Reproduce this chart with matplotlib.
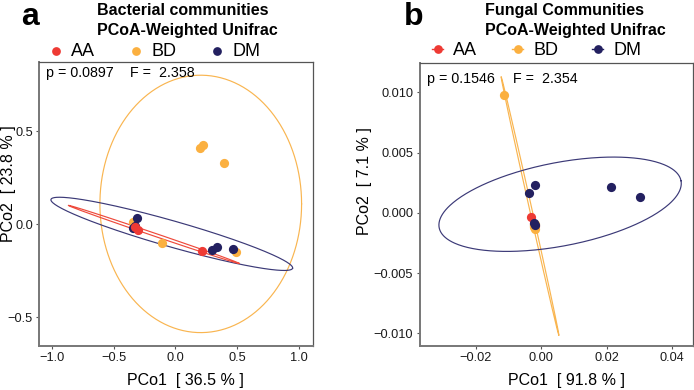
import numpy as np
import matplotlib
matplotlib.use("Agg")
import matplotlib.pyplot as plt
from matplotlib.lines import Line2D

plt.rcParams['font.family'] = ['Liberation Sans', 'DejaVu Sans']

# ---------------- data ----------------
groups = ["AA", "BD", "DM"]
colors = {"AA": "#EE3A34", "BD": "#FBB040", "DM": "#232060"}
ell_colors = {"AA": "#EE4A3C", "BD": "#F9B550", "DM": "#3B3977"}

# Panel a: Bacterial communities
a_AA_x = [-0.330, -0.302, 0.212]
a_AA_y = [-0.015, -0.031, -0.142]
a_BD_x = [0.199, 0.225, 0.396, -0.112, 0.488, -0.342]
a_BD_y = [0.412, 0.426, 0.328, -0.102, -0.147, 0.014]
a_DM_x = [-0.315, -0.342, -0.330, 0.294, 0.339, 0.464]
a_DM_y = [0.032, -0.022, -0.010, -0.138, -0.120, -0.134]
# ellipses: centre, conjugate semi-diameters (data units)
a_ell_center = {"AA": (-0.176, -0.054), "BD": (0.205, 0.110), "DM": (-0.030, -0.051)}
a_ell_p = {"AA": (0.693, -0.156), "BD": (0.818, 0.0), "DM": (0.980, -0.185)}
a_ell_q = {"AA": (-0.0039, -0.0076), "BD": (0.0, 0.692), "DM": (-0.0289, -0.0672)}
a_stats = ("p = 0.0897", "F =  2.358")

# Panel b: Fungal communities
b_AA_x = [-0.0030, -0.0022, -0.0020]
b_AA_y = [-0.00037, -0.0009, -0.0011]
b_BD_x = [-0.0112, -0.0021, -0.0022, -0.0020, -0.0023, -0.0019]
b_BD_y = [0.00978, -0.0012, -0.0010, -0.0013, -0.0011, -0.0009]
b_DM_x = [-0.00376, -0.00175, 0.02147, 0.03032, -0.0021, -0.0020]
b_DM_y = [0.00162, 0.00231, 0.00217, 0.00128, -0.00082, -0.0010]
b_ell_center = {"BD": (-0.0034, 0.00058), "DM": (0.0058, 0.000714)}
b_ell_p = {"BD": (0.00881, -0.01072), "DM": (0.03695, 0.00195)}
b_ell_q = {"BD": (0.000357, 0.0000216), "DM": (0.00243, -0.003394)}
b_stats = ("p = 0.1546", "F =  2.354")

a_xticks = [-1.0, -0.5, 0.0, 0.5, 1.0]
a_yticks = [-0.5, 0.0, 0.5]
b_xticks = [-0.02, 0.00, 0.02, 0.04]
b_yticks = [-0.010, -0.005, 0.000, 0.005, 0.010]

W, H = 694, 390
fig = plt.figure(figsize=(W / 100, H / 100), dpi=100)

def fx(px):
    return px / W

def fy(py):
    return 1 - py / H

def make_ax(l, t, r, b):
    return fig.add_axes([fx(l), fy(b), fx(r) - fx(l), fy(t) - fy(b)])

def style_ax(ax):
    for s in ax.spines.values():
        s.set_color('#555555')
        s.set_linewidth(0.9)
    ax.spines['left'].set_color('#777777')
    ax.spines['bottom'].set_color('#777777')
    ax.spines['left'].set_linewidth(1.4)
    ax.spines['bottom'].set_linewidth(1.4)
    ax.tick_params(axis='both', length=2.5, width=0.8, color='#555555',
                   labelsize=9.2, labelcolor='#1a1a1a', pad=2)

def draw_ellipse(ax, c, p, q, color, lw):
    t = np.linspace(0, 2 * np.pi, 400)
    x = c[0] + p[0] * np.cos(t) + q[0] * np.sin(t)
    y = c[1] + p[1] * np.cos(t) + q[1] * np.sin(t)
    ax.plot(x, y, color=color, lw=lw, zorder=2)

# ---------------- panel a ----------------
axa = make_ax(39, 62, 313.3, 346)
style_ax(axa)
axa.set_xlim(-1.107, 1.118)
axa.set_ylim(-0.654, 0.873)
axa.set_xticks(a_xticks)
axa.set_xticklabels(["\u22121.0", "\u22120.5", "0.0", "0.5", "1.0"])
axa.set_yticks(a_yticks)
axa.set_yticklabels(["\u22120.5", "0.0", "0.5"])
for g in ["BD", "DM", "AA"]:
    draw_ellipse(axa, a_ell_center[g], a_ell_p[g], a_ell_q[g], ell_colors[g], 0.85)
ms = 44
axa.scatter(a_BD_x, a_BD_y, s=ms, color=colors["BD"], zorder=3, linewidths=0)
axa.scatter(a_DM_x, a_DM_y, s=ms, color=colors["DM"], zorder=4, linewidths=0)
axa.scatter(a_AA_x, a_AA_y, s=ms, color=colors["AA"], zorder=5, linewidths=0)

# ---------------- panel b ----------------
axb = make_ax(419.5, 63.3, 692.5, 346)
style_ax(axb)
axb.set_xlim(-0.03716, 0.04626)
axb.set_ylim(-0.01105, 0.01241)
axb.set_xticks(b_xticks)
axb.set_xticklabels(["\u22120.02", "0.00", "0.02", "0.04"])
axb.set_yticks(b_yticks)
axb.set_yticklabels(["\u22120.010", "\u22120.005", "0.000", "0.005", "0.010"])
for g in ["BD", "DM"]:
    draw_ellipse(axb, b_ell_center[g], b_ell_p[g], b_ell_q[g], ell_colors[g], 0.85)
axb.scatter(b_AA_x, b_AA_y, s=ms, color=colors["AA"], zorder=3, linewidths=0)
axb.scatter(b_BD_x, b_BD_y, s=ms, color=colors["BD"], zorder=4, linewidths=0)
axb.scatter(b_DM_x, b_DM_y, s=ms, color=colors["DM"], zorder=5, linewidths=0)

# ---------------- text ----------------
# panel letters
fig.text(fx(21), fy(25), "a", fontsize=23, fontweight='bold', ha='left', va='baseline')
fig.text(fx(404), fy(25), "b", fontsize=23, fontweight='bold', ha='left', va='baseline')

# titles
fig.text(fx(97), fy(15), "Bacterial communities", fontsize=11.5, fontweight='bold', ha='left', va='baseline')
fig.text(fx(97), fy(35), "PCoA-Weighted Unifrac", fontsize=11.5, fontweight='bold', ha='left', va='baseline')
fig.text(fx(485), fy(15), "Fungal Communities", fontsize=11.5, fontweight='bold', ha='left', va='baseline')
fig.text(fx(485), fy(35), "PCoA-Weighted Unifrac", fontsize=11.5, fontweight='bold', ha='left', va='baseline')

# legends
def legend(x0, step, y, with_line):
    for i, g in enumerate(groups):
        x = x0 + i * step
        if with_line:
            fig.add_artist(Line2D([fx(x - 5.5), fx(x + 5.5)], [fy(y), fy(y)],
                                  transform=fig.transFigure, color=colors[g], lw=1.0))
        fig.add_artist(Line2D([fx(x)], [fy(y)], transform=fig.transFigure, marker='o',
                              markersize=6.3, color=colors[g], markeredgewidth=0, lw=0))
        fig.text(fx(x + 15.5), fy(y + 5.3), g, fontsize=13, ha='left', va='baseline')

legend(55.7, 80.5, 50.5, False)
legend(437.7, 80.0, 49.3, True)

# stats
fig.text(fx(46), fy(77.3), a_stats[0], fontsize=10.3, ha='left', va='baseline')
fig.text(fx(130), fy(77.3), a_stats[1], fontsize=10.3, ha='left', va='baseline')
fig.text(fx(427), fy(82.7), b_stats[0], fontsize=10.3, ha='left', va='baseline')
fig.text(fx(512.7), fy(82.7), b_stats[1], fontsize=10.3, ha='left', va='baseline')

# axis labels
fig.text(fx(185.5), fy(385), "PCo1  [ 36.5 % ]", fontsize=11.5, ha='center', va='baseline')
fig.text(fx(566.3), fy(385), "PCo1  [ 91.8 % ]", fontsize=11.5, ha='center', va='baseline')
fig.text(fx(8.5), fy(184), "PCo2  [ 23.8 % ]", fontsize=11.5, ha='center', va='center', rotation=90)
fig.text(fx(364), fy(181), "PCo2  [ 7.1 % ]", fontsize=11.5, ha='center', va='center', rotation=90)

fig.savefig("out.png", dpi=100)
